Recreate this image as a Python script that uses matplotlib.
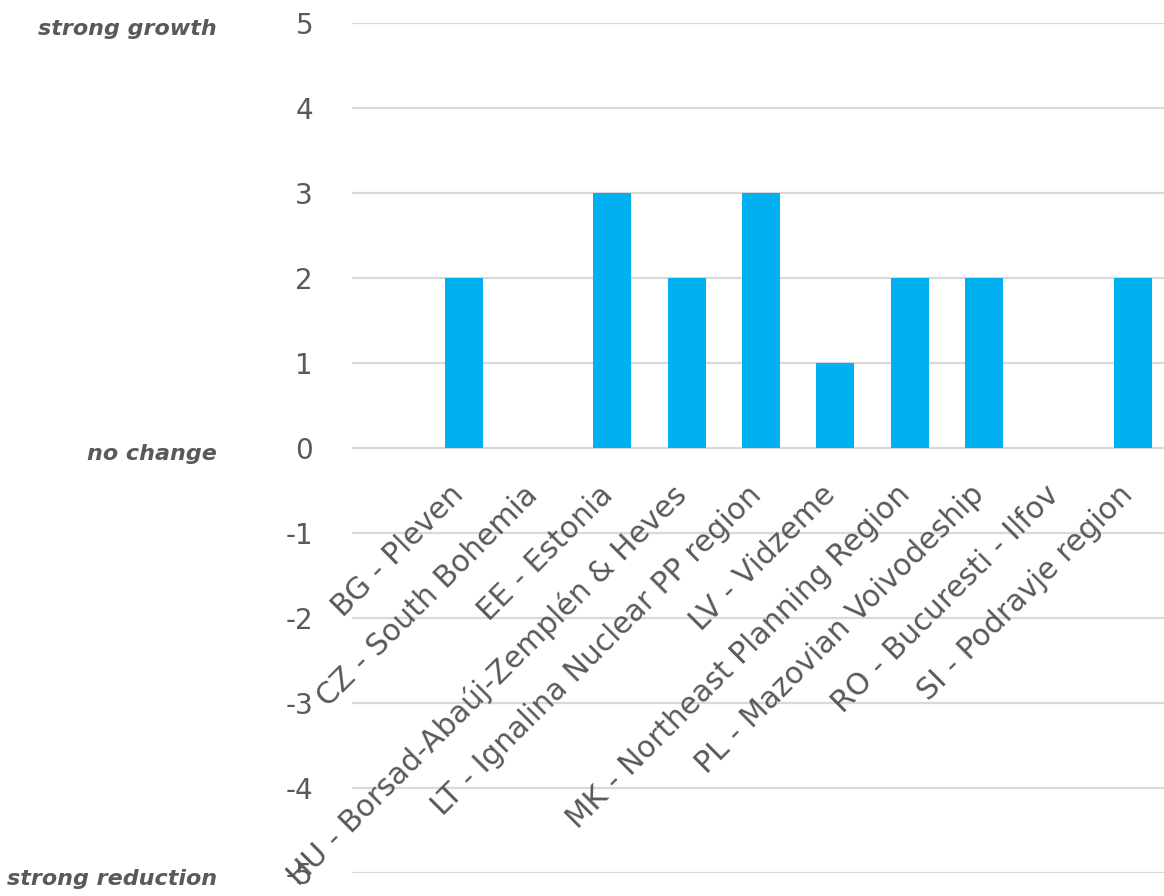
import matplotlib.pyplot as plt
import matplotlib.transforms as mtransforms
import numpy as np

regions = [
    "BG - Pleven",
    "CZ - South Bohemia",
    "EE - Estonia",
    "HU - Borsad-Abaúj-Zemplén & Heves",
    "LT - Ignalina Nuclear PP region",
    "LV - Vidzeme",
    "MK - Northeast Planning Region",
    "PL - Mazovian Voivodeship",
    "RO - Bucuresti - Ilfov",
    "SI - Podravje region",
]
scores = [2, 0, 3, 2, 3, 1, 2, 2, 0, 2]
y_ticks = [5, 4, 3, 2, 1, 0, -1, -2, -3, -4, -5]
side_labels = {5: "strong growth", 0: "no change", -5: "strong reduction"}

text_col = "#595959"
grid_col = "#d9d9d9"
bar_col = "#00b0f0"

plt.rcParams["font.family"] = ["DejaVu Sans"]

fig = plt.figure(figsize=(11.64, 8.96), dpi=100)
ax = fig.add_axes([352 / 1164, 23 / 896, 1 - 352 / 1164, 850 / 896])

x = np.arange(len(regions))
ax.bar(x, scores, width=0.51, color=bar_col, zorder=3)

ax.set_ylim(-5, 5)
ax.set_xlim(-1.5, 9.42)
ax.set_yticks(y_ticks)
ax.set_yticklabels([str(v) for v in y_ticks], fontsize=20, color=text_col)
ax.tick_params(axis="y", length=0, pad=28)
ax.set_xticks([])
ax.yaxis.grid(True, color=grid_col, linewidth=1.6, zorder=0)
for s in ax.spines.values():
    s.set_visible(False)

# category names hang diagonally just below the zero line
for i, name in enumerate(regions):
    ax.annotate(name, xy=(i, 0), xytext=(6, -32), textcoords="offset pixels",
                rotation=45, ha="right", va="top", fontsize=21.5,
                color=text_col, zorder=4)

# scale descriptions to the left of the axis, sitting a little below their gridline
trans = mtransforms.blended_transform_factory(fig.transFigure, ax.transData)
trans = trans + mtransforms.ScaledTranslation(0, -0.06, fig.dpi_scale_trans)
for val, txt in side_labels.items():
    ax.text(217 / 1164, val, txt, transform=trans,
            fontsize=16, fontweight="bold", fontstyle="italic",
            color=text_col, ha="right", va="center")

fig.savefig("out.png", dpi=100)
